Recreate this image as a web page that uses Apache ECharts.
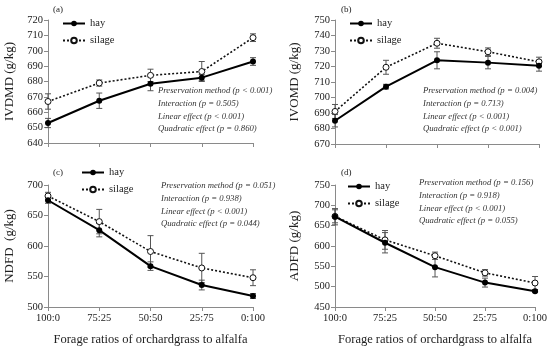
<!DOCTYPE html>
<html><head><meta charset="utf-8">
<script src="https://cdn.jsdelivr.net/npm/echarts@6/dist/echarts.min.js"></script>
<style>html,body{margin:0;padding:0;background:#fff}#c{width:550px;height:351px}</style>
</head><body><div id="c"></div>
<script>
const categories = ['100:0', '75:25', '50:50', '25:75', '0:100'];

const ivdmdHay = [653, 667.5, 678.5, 682.5, 693];
const ivdmdHayErr = [3, 5, 4.5, 2, 2.5];
const ivdmdSilage = [667, 679, 684, 686.5, 708.5];
const ivdmdSilageErr = [5, 2, 4, 6.5, 2.5];

const ivomdHay = [685, 707, 724, 722.5, 720.5];
const ivomdHayErr = [4, 1.5, 5.5, 4, 3.5];
const ivomdSilage = [691, 719.5, 735, 729.5, 723];
const ivomdSilageErr = [4.5, 4.5, 3.2, 2.5, 3];

const ndfdHay = [675, 626, 567, 536, 518];
const ndfdHayErr = [5, 11, 7, 8, 4];
const ndfdSilage = [682, 640, 591, 564, 548];
const ndfdSilageErr = [6, 20, 26, 24, 13];

const adfdHay = [672, 608, 548, 510, 489];
const adfdHayErr = [20, 25, 24, 11, 3];
const adfdSilage = [673, 615, 576, 534, 509];
const adfdSilageErr = [16, 23, 9, 8, 16];

const yTitles = ['IVDMD (g/kg)', 'IVOMD (g/kg)', 'NDFD  (g/kg)', 'ADFD (g/kg)'];
const panelTags = ['(a)', '(b)', '(c)', '(d)'];
const stats = [
  ['Preservation method (p < 0.001)', 'Interaction (p = 0.505)', 'Linear effect (p < 0.001)', 'Quadratic effect (p = 0.860)'],
  ['Preservation method (p = 0.004)', 'Interaction (p = 0.713)', 'Linear effect (p < 0.001)', 'Quadratic effect (p < 0.001)'],
  ['Preservation method (p = 0.051)', 'Interaction (p = 0.938)', 'Linear effect (p < 0.001)', 'Quadratic effect (p = 0.044)'],
  ['Preservation method (p = 0.156)', 'Interaction (p = 0.918)', 'Linear effect (p < 0.001)', 'Quadratic effect (p = 0.055)']
];
const xTitle = 'Forage ratios of orchardgrass to alfalfa';

const panels = [
  {hay: ivdmdHay, hayErr: ivdmdHayErr, sil: ivdmdSilage, silErr: ivdmdSilageErr, min: 640, max: 720, interval: 10},
  {hay: ivomdHay, hayErr: ivomdHayErr, sil: ivomdSilage, silErr: ivomdSilageErr, min: 670, max: 750, interval: 10},
  {hay: ndfdHay, hayErr: ndfdHayErr, sil: ndfdSilage, silErr: ndfdSilageErr, min: 500, max: 700, interval: 50},
  {hay: adfdHay, hayErr: adfdHayErr, sil: adfdSilage, silErr: adfdSilageErr, min: 450, max: 750, interval: 50}
];

// layout
const grids = [
  {left: 48, top: 20, width: 205, height: 123},
  {left: 335, top: 20, width: 204, height: 124},
  {left: 48, top: 185, width: 205, height: 122},
  {left: 335, top: 185, width: 204, height: 122}
];
const legendPos = [
  {left: 62, top: 18}, {left: 349, top: 18}, {left: 81, top: 167}, {left: 347, top: 181}
];
const statPos = [
  {x: 158, y: 91}, {x: 423, y: 91}, {x: 161, y: 186}, {x: 419, y: 183}
];
const tagPos = [{x: 53, y: 10}, {x: 341, y: 10}, {x: 53, y: 173}, {x: 341, y: 173}];
const yNameGap = [32, 34, 32, 34];

const SERIF = '"Liberation Serif", "DejaVu Serif", serif';
const AXIS_COLOR = '#8a8a8a';
const TEXT_COLOR = '#222';

function errRender(params, api) {
  const x = api.value(0), y = api.value(1), e = api.value(2);
  const hi = api.coord([x, y + e]);
  const lo = api.coord([x, y - e]);
  const w = 3;
  const st = {stroke: '#555', lineWidth: 1};
  return {type: 'group', children: [
    {type: 'line', shape: {x1: hi[0], y1: hi[1], x2: lo[0], y2: lo[1]}, style: st},
    {type: 'line', shape: {x1: hi[0] - w, y1: hi[1], x2: hi[0] + w, y2: hi[1]}, style: st},
    {type: 'line', shape: {x1: lo[0] - w, y1: lo[1], x2: lo[0] + w, y2: lo[1]}, style: st}
  ]};
}

const option = {
  animation: false,
  backgroundColor: '#fff',
  grid: grids.map(g => Object.assign({containLabel: false}, g)),
  xAxis: panels.map((p, i) => ({
    type: 'category', gridIndex: i, data: categories, boundaryGap: false,
    axisLine: {lineStyle: {color: AXIS_COLOR, width: 1}},
    axisTick: {show: true, length: 4, lineStyle: {color: AXIS_COLOR}},
    axisLabel: {show: i >= 2, color: TEXT_COLOR, fontFamily: SERIF, fontSize: 10.5, margin: 6},
    name: i >= 2 ? xTitle : '', nameLocation: 'middle', nameGap: 26,
    nameTextStyle: {color: TEXT_COLOR, fontFamily: SERIF, fontSize: 12.5},
    splitLine: {show: false}
  })),
  yAxis: panels.map((p, i) => ({
    type: 'value', gridIndex: i, min: p.min, max: p.max, interval: p.interval,
    axisLine: {show: true, lineStyle: {color: AXIS_COLOR, width: 1}},
    axisTick: {show: true, length: 4, lineStyle: {color: AXIS_COLOR}},
    axisLabel: {color: TEXT_COLOR, fontFamily: SERIF, fontSize: 10.5, margin: 5},
    splitLine: {show: false},
    name: yTitles[i], nameLocation: 'middle', nameGap: yNameGap[i], nameRotate: 90,
    nameTextStyle: {color: TEXT_COLOR, fontFamily: SERIF, fontSize: 13}
  })),
  legend: panels.map((p, i) => ({
    data: ['hay', 'silage'], orient: 'vertical', left: legendPos[i].left, top: legendPos[i].top,
    itemWidth: 22, itemHeight: 7, itemGap: 6, padding: 0,
    textStyle: {color: TEXT_COLOR, fontFamily: SERIF, fontSize: 10.5},
    selectedMode: false
  })),
  series: [],
  graphic: []
};

panels.forEach((p, i) => {
  option.series.push({
    type: 'custom', name: 'hayErr' + i, xAxisIndex: i, yAxisIndex: i,
    renderItem: errRender, encode: {x: 0, y: 1},
    data: p.hay.map((v, k) => [k, v, p.hayErr[k]]), z: 1, silent: true
  });
  option.series.push({
    type: 'custom', name: 'silErr' + i, xAxisIndex: i, yAxisIndex: i,
    renderItem: errRender, encode: {x: 0, y: 1},
    data: p.sil.map((v, k) => [k, v, p.silErr[k]]), z: 1, silent: true
  });
  option.series.push({
    type: 'line', name: 'silage', xAxisIndex: i, yAxisIndex: i, data: p.sil,
    symbol: 'circle', symbolSize: 6, z: 3,
    lineStyle: {color: '#111', width: 1.6, type: [2, 2]},
    itemStyle: {color: '#fff', borderColor: '#111', borderWidth: 1}
  });
  option.series.push({
    type: 'line', name: 'hay', xAxisIndex: i, yAxisIndex: i, data: p.hay,
    symbol: 'circle', symbolSize: 6, z: 4,
    lineStyle: {color: '#000', width: 2},
    itemStyle: {color: '#000', borderColor: '#000', borderWidth: 0}
  });
  option.graphic.push({
    type: 'text', left: tagPos[i].x, top: tagPos[i].y - 5,
    style: {text: panelTags[i], font: '9px ' + SERIF, fill: TEXT_COLOR}
  });
  stats[i].forEach((s, k) => {
    option.graphic.push({
      type: 'text', left: statPos[i].x, top: statPos[i].y + k * 12.9 - 5,
      style: {text: s, font: 'italic 8.7px ' + SERIF, fill: '#333'}
    });
  });
});

const chart = echarts.init(document.getElementById('c'), null, {renderer: 'canvas'});
chart.setOption(option);
</script>
</body></html>
